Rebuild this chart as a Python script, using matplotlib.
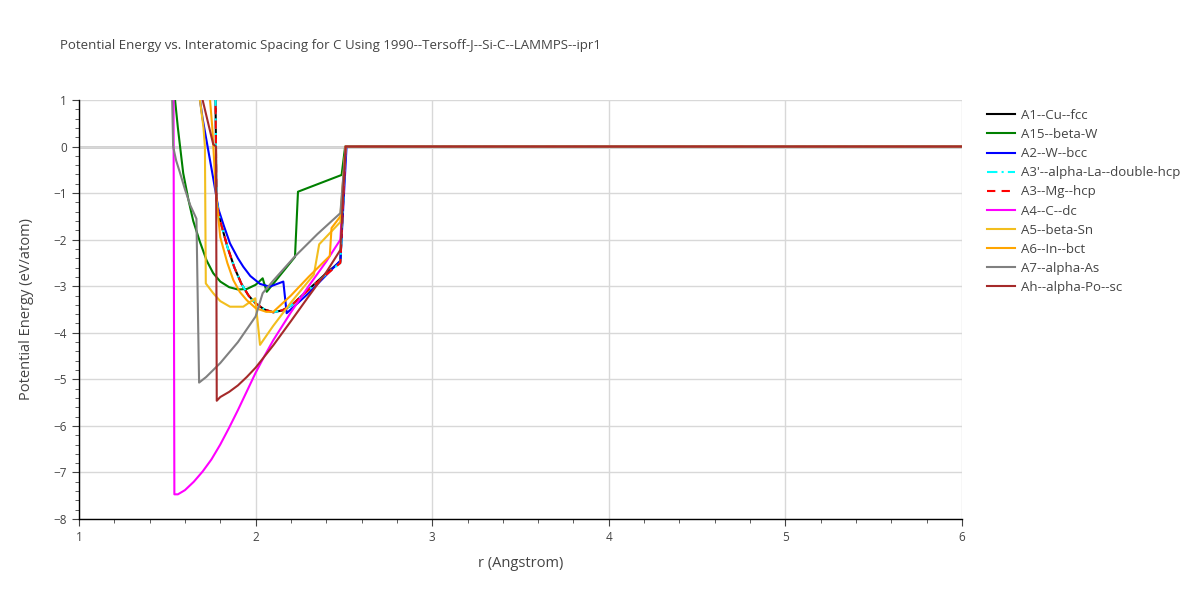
import matplotlib
matplotlib.use("Agg")
import matplotlib.pyplot as plt
from matplotlib.ticker import MultipleLocator

plt.rcParams['font.family'] = ['Open Sans', 'DejaVu Sans']

title = "Potential Energy vs. Interatomic Spacing for C Using 1990--Tersoff-J--Si-C--LAMMPS--ipr1"

# values (r in Angstrom, E in eV/atom)
fcc_r = [1.772, 1.778, 1.79, 1.80, 1.84, 1.88, 1.92, 1.96, 2.00, 2.05, 2.10, 2.15, 2.20, 2.30, 2.40, 2.48, 2.51, 6.0]
fcc_e = [1.5, -1.1, -1.45, -1.6, -2.15, -2.6, -2.95, -3.2, -3.37, -3.5, -3.56, -3.52, -3.42, -3.07, -2.72, -2.47, 0.0, 0.0]

a15_r = [1.535, 1.544, 1.56, 1.59, 1.62, 1.647, 1.685, 1.723, 1.76, 1.80, 1.85, 1.90, 1.95, 2.00, 2.04, 2.063, 2.223, 2.24, 2.487, 2.507, 6.0]
a15_e = [1.3, 1.0, 0.4, -0.57, -1.15, -1.6, -2.05, -2.45, -2.72, -2.9, -3.02, -3.07, -3.06, -2.97, -2.83, -3.12, -2.37, -0.97, -0.61, 0.0, 0.0]

bcc_r = [1.675, 1.685, 1.70, 1.76, 1.79, 1.82, 1.855, 1.90, 1.93, 1.97, 2.025, 2.08, 2.157, 2.176, 2.30, 2.48, 2.515, 6.0]
bcc_e = [1.3, 1.0, 0.6, -0.68, -1.35, -1.7, -2.08, -2.4, -2.58, -2.78, -2.95, -3.01, -2.9, -3.58, -3.15, -2.45, 0.0, 0.0]

dhcp_r = [1.772, 1.778, 1.79, 1.80, 1.84, 1.88, 1.92, 1.96, 2.00, 2.05, 2.10, 2.15, 2.20, 2.30, 2.40, 2.48, 2.51, 6.0]
dhcp_e = [1.5, -1.1, -1.45, -1.6, -2.15, -2.6, -2.95, -3.2, -3.37, -3.5, -3.56, -3.52, -3.42, -3.08, -2.74, -2.5, 0.0, 0.0]

hcp_r = [1.772, 1.778, 1.79, 1.80, 1.84, 1.88, 1.92, 1.96, 2.00, 2.05, 2.10, 2.15, 2.20, 2.30, 2.40, 2.48, 2.51, 6.0]
hcp_e = [1.5, -1.1, -1.45, -1.6, -2.15, -2.6, -2.95, -3.2, -3.37, -3.5, -3.56, -3.52, -3.42, -3.08, -2.75, -2.5, 0.0, 0.0]

dc_r = [1.535, 1.54, 1.56, 1.60, 1.65, 1.70, 1.75, 1.80, 1.85, 1.90, 1.95, 2.00, 2.05, 2.10, 2.20, 2.30, 2.40, 2.48, 2.51, 6.0]
dc_e = [1.5, -7.47, -7.47, -7.38, -7.2, -6.98, -6.72, -6.4, -6.04, -5.66, -5.26, -4.86, -4.5, -4.16, -3.56, -3.0, -2.47, -2.0, 0.0, 0.0]

sn_r = [1.675, 1.685, 1.705, 1.713, 1.718, 1.76, 1.80, 1.855, 1.93, 1.998, 2.025, 2.10, 2.20, 2.33, 2.36, 2.48, 2.51, 6.0]
sn_e = [1.4, 1.0, 0.4, 0.0, -2.94, -3.15, -3.32, -3.44, -3.44, -3.26, -4.26, -3.85, -3.35, -2.75, -2.1, -1.62, 0.0, 0.0]

bct_r = [1.735, 1.742, 1.755, 1.775, 1.80, 1.84, 1.874, 1.91, 1.95, 2.00, 2.06, 2.10, 2.20, 2.30, 2.42, 2.43, 2.48, 2.51, 6.0]
bct_e = [1.4, 1.0, 0.4, -1.0, -1.95, -2.5, -2.87, -3.12, -3.3, -3.47, -3.55, -3.55, -3.2, -2.8, -2.35, -1.75, -1.5, 0.0, 0.0]

as_r = [1.525, 1.533, 1.55, 1.57, 1.60, 1.63, 1.665, 1.68, 1.72, 1.80, 1.90, 2.00, 2.04, 2.10, 2.22, 2.35, 2.48, 2.51, 6.0]
as_e = [1.5, 0.0, -0.3, -0.54, -0.92, -1.26, -1.55, -5.07, -4.95, -4.65, -4.2, -3.65, -3.15, -2.88, -2.37, -1.88, -1.43, 0.0, 0.0]

sc_r = [1.68, 1.70, 1.76, 1.776, 1.78, 1.80, 1.85, 1.90, 1.95, 2.00, 2.10, 2.20, 2.30, 2.40, 2.48, 2.51, 6.0]
sc_e = [1.6, 1.0, 0.05, 0.0, -5.46, -5.38, -5.27, -5.13, -4.95, -4.75, -4.27, -3.75, -3.22, -2.7, -2.22, 0.0, 0.0]

series = [
    ("A1--Cu--fcc", fcc_r, fcc_e, "black", "-"),
    ("A15--beta-W", a15_r, a15_e, "green", "-"),
    ("A2--W--bcc", bcc_r, bcc_e, "blue", "-"),
    ("A3'--alpha-La--double-hcp", dhcp_r, dhcp_e, "cyan", (0, (5, 2, 1, 2))),
    ("A3--Mg--hcp", hcp_r, hcp_e, "red", (0, (4, 3))),
    ("A4--C--dc", dc_r, dc_e, "magenta", "-"),
    ("A5--beta-Sn", sn_r, sn_e, "#f2be1e", "-"),
    ("A6--In--bct", bct_r, bct_e, "orange", "-"),
    ("A7--alpha-As", as_r, as_e, "gray", "-"),
    ("Ah--alpha-Po--sc", sc_r, sc_e, "brown", "-"),
]

fig = plt.figure(figsize=(12, 6), dpi=100)
ax = fig.add_axes([79 / 1200, 81 / 600, 883 / 1200, 419 / 600])

for label, r, e, color, ls in series:
    ax.plot(r, e, color=color, linestyle=ls, linewidth=1.5, label=label)

ax.set_xlim(1, 6)
ax.set_ylim(-8, 1)
ax.xaxis.set_major_locator(MultipleLocator(1))
ax.xaxis.set_minor_locator(MultipleLocator(0.2))
ax.yaxis.set_major_locator(MultipleLocator(1))
ax.yaxis.set_minor_locator(MultipleLocator(0.2))
ax.grid(True, which='major', color='#d8d8d8', linewidth=1)
ax.axhline(0, color='#cccccc', linewidth=2, zorder=0.5)
ax.set_axisbelow(True)

for side in ['top', 'right']:
    ax.spines[side].set_visible(False)
for side in ['left', 'bottom']:
    ax.spines[side].set_color('black')
    ax.spines[side].set_linewidth(1)

ax.tick_params(which='major', length=5, color='#444444', labelsize=8.5, labelcolor='#444444')
ax.tick_params(which='minor', length=3, color='#444444')

ax.set_xlabel("r (Angstrom)", fontsize=10.5, color='#444444', labelpad=9)
ax.set_ylabel("Potential Energy (eV/atom)", fontsize=10.5, color='#444444', labelpad=14)

fig.text(60 / 1200, 1 - 45 / 600, title, fontsize=9.5, color='#444444', va='center', ha='left')

fig.legend(loc='upper left', bbox_to_anchor=(975 / 1200, 1 - 97 / 600), frameon=False,
           fontsize=9.5, handlelength=2.1, labelspacing=0.465, handletextpad=0.45,
           labelcolor='#444444')

fig.savefig("out.png", dpi=100)
